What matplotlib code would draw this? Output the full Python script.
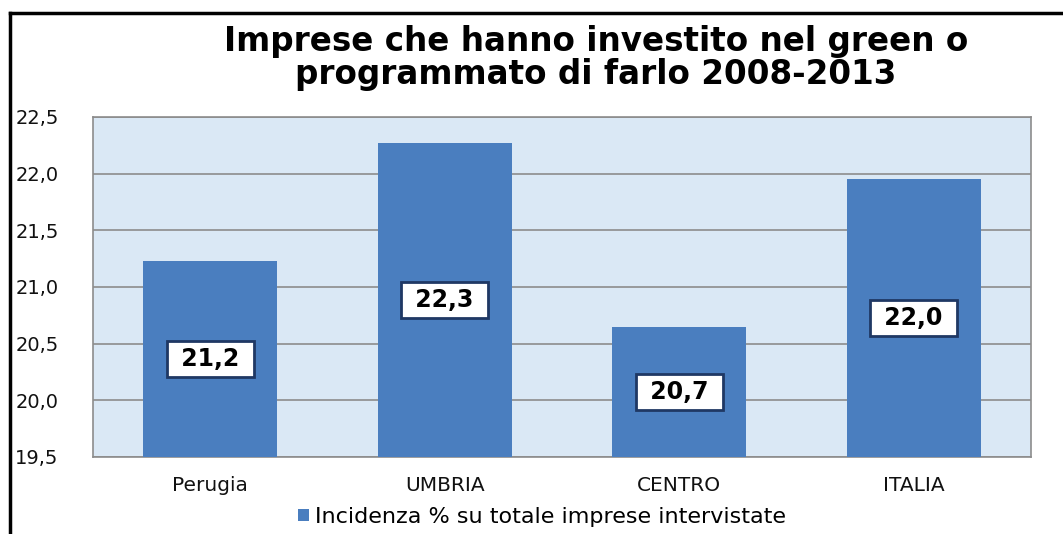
import matplotlib
matplotlib.use("Agg")
import matplotlib.pyplot as plt
from matplotlib.lines import Line2D
from matplotlib.patches import Patch

categories = ["Perugia", "UMBRIA", "CENTRO", "ITALIA"]
values = [21.23, 22.27, 20.65, 21.95]
value_labels = ["21,2", "22,3", "20,7", "22,0"]
yticks = [19.5, 20.0, 20.5, 21.0, 21.5, 22.0, 22.5]
ytick_labels = ["19,5", "20,0", "20,5", "21,0", "21,5", "22,0", "22,5"]
title = "Imprese che hanno investito nel green o\nprogrammato di farlo 2008-2013"
series_name = "Incidenza % su totale imprese intervistate"

W, H = 1063, 534
fig = plt.figure(figsize=(W / 100, H / 100), dpi=100)
ax = fig.add_axes([93 / W, 1 - 457 / H, (1031 - 93) / W, (457 - 117) / H])

bar_color = "#4A7EBF"
ax.set_facecolor("#DAE8F5")
ymin = 19.5
x = list(range(len(categories)))
ax.bar(x, [v - ymin for v in values], bottom=ymin, width=0.57, color=bar_color, zorder=3)
ax.set_xlim(-0.5, len(categories) - 0.5)
ax.set_ylim(19.5, 22.5)
ax.set_yticks(yticks)
ax.set_yticklabels(ytick_labels)
ax.set_xticks(x)
ax.set_xticklabels(categories)
ax.grid(axis="y", color="#8C8C8C", linewidth=1.2, zorder=1)
ax.tick_params(axis="both", length=0, colors="#111111")
ax.tick_params(axis="y", pad=56, labelsize=14)
ax.tick_params(axis="x", pad=14, labelsize=14.5)
for lab in ax.get_yticklabels():
    lab.set_horizontalalignment("left")
for s in ax.spines.values():
    s.set_color("#8C8C8C")
    s.set_linewidth(1.2)

for xi, v, lab in zip(x, values, value_labels):
    ax.text(xi, (ymin + v) / 2, " " + lab + " ", ha="center", va="center", fontsize=17,
            fontweight="bold", zorder=5,
            bbox=dict(boxstyle="square,pad=0.26", facecolor="white",
                      edgecolor="#1F3864", linewidth=2))

fig.text(596 / W, 1 - 58 / H, title, ha="center", va="center", fontsize=23.5,
         fontweight="bold", linespacing=1.0)

handles = [Patch(facecolor=bar_color, edgecolor="none")]
fig.legend(handles, [series_name], loc="center", bbox_to_anchor=(542 / W, 1 - 517 / H),
           frameon=False, fontsize=16, handlelength=0.5, handleheight=0.5,
           handletextpad=0.3)

# outer chart frame (left and top edges visible)
fig.add_artist(Line2D([10 / W, 10 / W], [0, 1 - 13 / H], transform=fig.transFigure,
                      color="black", linewidth=2.5))
fig.add_artist(Line2D([10 / W, 1], [1 - 13 / H, 1 - 13 / H], transform=fig.transFigure,
                      color="black", linewidth=2.5))

fig.savefig("out.png", dpi=100)
